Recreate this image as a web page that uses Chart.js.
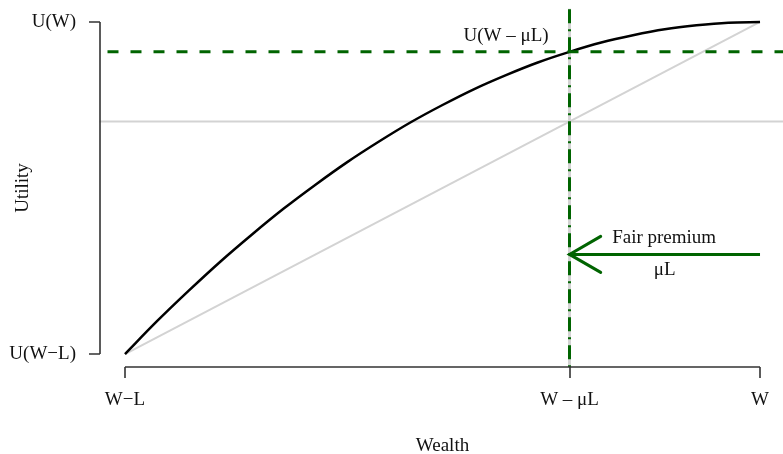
<!DOCTYPE html>
<html>
<head>
<meta charset="utf-8">
<script src="https://cdn.jsdelivr.net/npm/chart.js@4"></script>
<style>
  html, body { margin: 0; padding: 0; background: #fff; overflow: hidden; }
  #wrap { width: 783px; height: 454px; }
</style>
</head>
<body>
<div id="wrap"><canvas id="chart" width="783" height="454"></canvas></div>
<script>
// wealth runs from W-L (0) to W (1), utility from U(W-L) (0) to U(W) (1)
const wealth = [0, 0.05, 0.1, 0.15, 0.2, 0.25, 0.3, 0.35, 0.4, 0.45, 0.5,
  0.55, 0.6, 0.65, 0.7, 0.75, 0.8, 0.85, 0.9, 0.95, 1];
const utility = [0, 0.098, 0.19, 0.278, 0.36, 0.438, 0.51, 0.578, 0.64, 0.698, 0.75,
  0.798, 0.84, 0.878, 0.91, 0.938, 0.96, 0.978, 0.99, 0.998, 1];

const wealthTicks = [0, 0.7, 1];
const wealthLabels = ["W\u2212L", "W \u2013 \u03bcL", "W"];
const utilityTicks = [0, 1];
const utilityLabels = ["U(W\u2212L)", "U(W)"];

const certainWealth = 0.7;     // W - muL
const certainUtility = 0.91;   // U(W - muL)
const expectedUtility = 0.7;   // on the chord
const arrowLevel = 0.3;
const span = [-0.1, 1.1];

const GREEN = "#006400";
const GRAY = "#d3d3d3";
const FONT = "19px 'Liberation Serif', 'DejaVu Serif', serif";

const pts = (xs, ys) => xs.map((x, i) => ({ x, y: ys[i] }));

const axesPlugin = {
  id: "rAxes",
  afterDatasetsDraw(chart) {
    const { ctx, scales: { x, y }, chartArea } = chart;
    ctx.save();
    ctx.strokeStyle = "#333";
    ctx.lineWidth = 1.6;
    ctx.fillStyle = "#111";
    ctx.font = FONT;

    // y axis
    const ax = Math.round(chartArea.left);
    ctx.beginPath();
    ctx.moveTo(ax, y.getPixelForValue(utilityTicks[0]));
    ctx.lineTo(ax, y.getPixelForValue(utilityTicks[utilityTicks.length - 1]));
    utilityTicks.forEach((t) => {
      const py = Math.round(y.getPixelForValue(t));
      ctx.moveTo(ax, py);
      ctx.lineTo(ax - 11, py);
    });
    ctx.stroke();
    ctx.textAlign = "right";
    ctx.textBaseline = "middle";
    utilityTicks.forEach((t, i) => {
      ctx.fillText(utilityLabels[i], 76, y.getPixelForValue(t));
    });

    // x axis
    const ay = Math.round(chartArea.bottom);
    ctx.beginPath();
    ctx.moveTo(x.getPixelForValue(wealthTicks[0]), ay);
    ctx.lineTo(x.getPixelForValue(wealthTicks[wealthTicks.length - 1]), ay);
    wealthTicks.forEach((t) => {
      const px = Math.round(x.getPixelForValue(t));
      ctx.moveTo(px, ay);
      ctx.lineTo(px, ay + 11);
    });
    ctx.stroke();
    ctx.textAlign = "center";
    wealthTicks.forEach((t, i) => {
      ctx.fillText(wealthLabels[i], x.getPixelForValue(t), 400);
    });

    // titles
    ctx.fillText("Wealth", (chartArea.left + x.getPixelForValue(1.04)) / 2, 446);
    ctx.save();
    ctx.translate(23, (chartArea.top + chartArea.bottom) / 2);
    ctx.rotate(-Math.PI / 2);
    ctx.fillText("Utility", 0, 0);
    ctx.restore();

    // annotations
    ctx.fillText("U(W \u2013 \u03bcL)", x.getPixelForValue(0.6), y.getPixelForValue(0.958));
    ctx.fillText("Fair premium", x.getPixelForValue(0.849), y.getPixelForValue(0.35));
    ctx.fillText("\u03bcL", x.getPixelForValue(0.85), y.getPixelForValue(0.252));

    // arrow head
    const tipX = x.getPixelForValue(certainWealth);
    const tipY = y.getPixelForValue(arrowLevel);
    ctx.strokeStyle = GREEN;
    ctx.lineWidth = 3;
    ctx.lineCap = "round";
    ctx.beginPath();
    const len = 36, ang = Math.PI / 6;
    ctx.moveTo(tipX + len * Math.cos(ang), tipY - len * Math.sin(ang));
    ctx.lineTo(tipX, tipY);
    ctx.lineTo(tipX + len * Math.cos(ang), tipY + len * Math.sin(ang));
    ctx.stroke();
    ctx.restore();
  }
};

new Chart(document.getElementById("chart").getContext("2d"), {
  type: "scatter",
  data: {
    datasets: [
      {
        data: pts([wealth[0], wealth[wealth.length - 1]], [utility[0], utility[utility.length - 1]]),
        borderColor: GRAY, borderWidth: 2, showLine: true, pointRadius: 0, order: 5
      },
      {
        data: pts(span, [expectedUtility, expectedUtility]),
        borderColor: GRAY, borderWidth: 2, showLine: true, pointRadius: 0, order: 5
      },
      {
        data: pts([certainWealth, certainWealth], span),
        borderColor: GRAY, borderWidth: 3, showLine: true, pointRadius: 0, order: 5
      },
      {
        data: pts(wealth, utility),
        borderColor: "#000", borderWidth: 2.5, showLine: true, pointRadius: 0,
        cubicInterpolationMode: "monotone", order: 3
      },
      {
        data: pts(span, [certainUtility, certainUtility]),
        borderColor: GREEN, borderWidth: 3, borderDash: [11, 12], showLine: true, pointRadius: 0, order: 1
      },
      {
        data: pts([certainWealth, certainWealth], span),
        borderColor: GREEN, borderWidth: 3, borderDash: [14, 6, 2, 6], showLine: true, pointRadius: 0, order: 1
      },
      {
        data: pts([1, certainWealth], [arrowLevel, arrowLevel]),
        borderColor: GREEN, borderWidth: 3, showLine: true, pointRadius: 0, order: 1
      }
    ]
  },
  options: {
    responsive: false,
    animation: false,
    events: [],
    layout: { padding: { left: 99.6, top: 8.7, right: 0, bottom: 86.7 } },
    plugins: { legend: { display: false }, tooltip: { enabled: false } },
    scales: {
      x: { type: "linear", min: -0.04, max: 1.0362, display: false },
      y: { type: "linear", min: -0.04, max: 1.04, display: false }
    }
  },
  plugins: [axesPlugin]
});
</script>
</body>
</html>
